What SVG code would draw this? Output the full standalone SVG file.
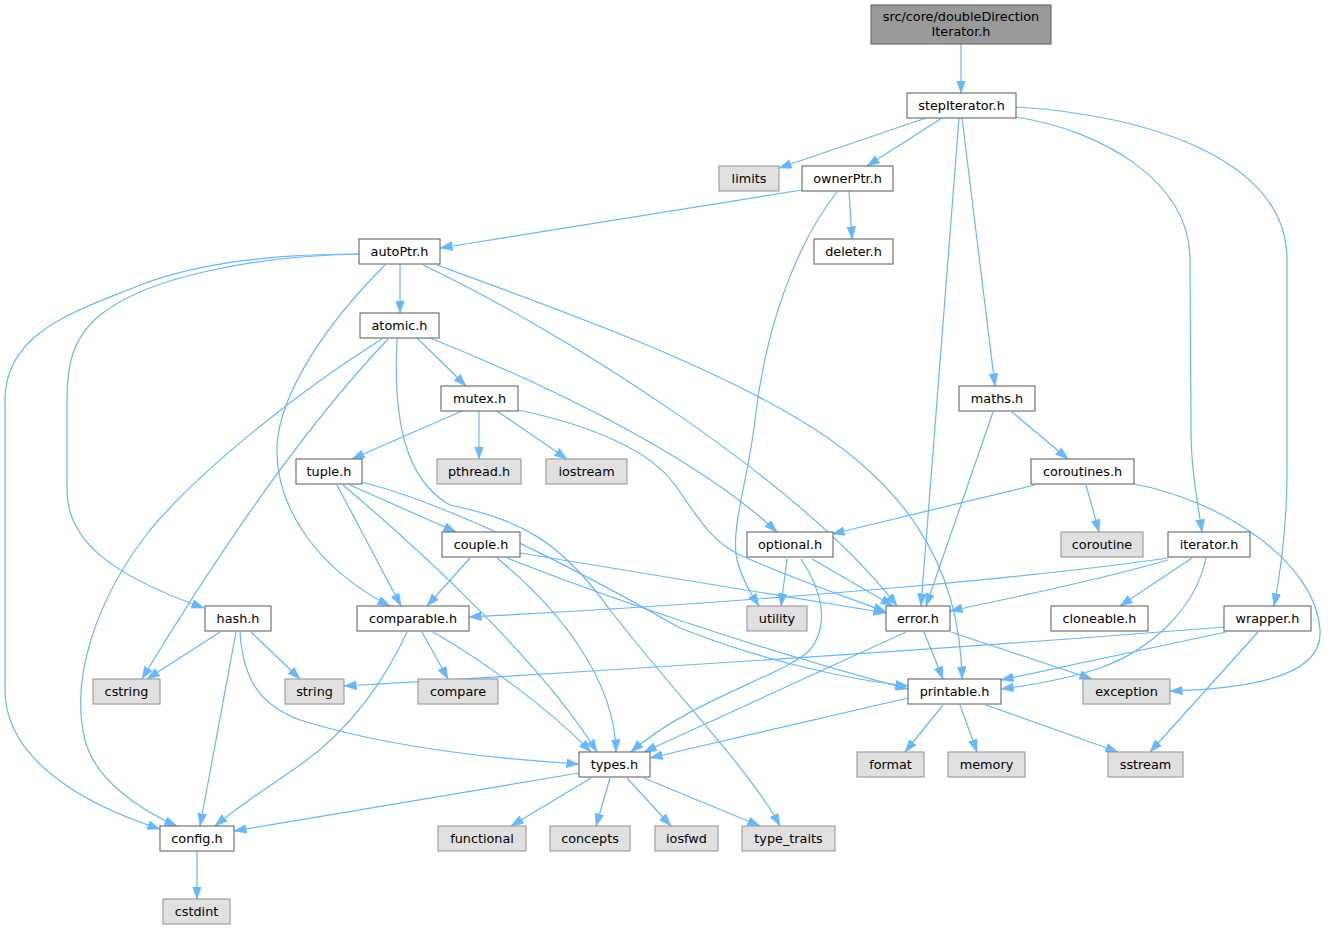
<svg xmlns="http://www.w3.org/2000/svg" width="1333" height="931" viewBox="0 0 1333 931">
<style>
.n rect{fill:#ffffff;stroke:#666666;stroke-width:1.1}
.g rect{fill:#e0e0e0;stroke:#999999;stroke-width:1.1}
.r rect{fill:#999999;stroke:#666666;stroke-width:1.1}
text{font-family:"DejaVu Sans","Liberation Sans",sans-serif;font-size:12.8px;text-anchor:middle;fill:#000000}
#edges path{fill:none;stroke:#63b8ff;stroke-width:1.2;marker-end:url(#arr)}
</style>
<defs>
<marker id="arr" markerUnits="userSpaceOnUse" markerWidth="14" markerHeight="10" refX="12.5" refY="4.5" orient="auto">
<path d="M0,0 L12.5,4.5 L0,9 Z" fill="#63b8ff" stroke="#63b8ff" stroke-width="0.5"/>
</marker>
</defs>
<rect width="1333" height="931" fill="#ffffff"/>
<g id="edges">
<path d="M961,44 L961,93"/>
<path d="M926,118 L779,168"/>
<path d="M942,118 L867,166"/>
<path d="M959,118 L921,606"/>
<path d="M962,118 L995,386"/>
<path d="M1016,117 C1100,130 1190,180 1190,260 L1191,430 C1191,470 1198,505 1202,532"/>
<path d="M1016,107 C1150,115 1287,160 1287,260 L1287,470 C1287,530 1280,575 1274,606"/>
<path d="M802,190 L440,248"/>
<path d="M849,191 L852,239"/>
<path d="M837,192 C795,245 765,330 755,420 C748,480 730,530 737,560 C742,580 752,595 759,606"/>
<path d="M400,264 L400,313"/>
<path d="M359,254 C280,254 200,262 140,285 C80,310 5,330 5,400 L5,690 C5,760 85,805 160,829"/>
<path d="M359,254 C260,256 150,275 100,315 C70,340 67,370 67,400 L67,490 C67,540 110,575 204,608"/>
<path d="M385,265 C330,320 280,390 277,446 C275,510 320,570 390,606"/>
<path d="M423,265 C560,330 800,480 897,606"/>
<path d="M437,265 C560,310 700,360 800,420 C900,480 960,560 962,679"/>
<path d="M417,338 L466,386"/>
<path d="M430,338 C560,390 700,460 777,532"/>
<path d="M388,339 C330,400 250,500 142,679"/>
<path d="M382,339 C300,390 200,470 150,530 C95,600 70,680 85,740 C95,780 140,810 177,826"/>
<path d="M397,339 C393,420 405,480 450,505 C520,520 560,540 610,610 C680,700 750,770 780,826"/>
<path d="M462,411 L352,459"/>
<path d="M479,411 L479,459"/>
<path d="M497,411 L567,459"/>
<path d="M518,410 C590,425 650,450 675,485 C700,520 710,540 740,555 C790,578 850,598 886,612"/>
<path d="M1012,412 L1068,459"/>
<path d="M993,412 L926,606"/>
<path d="M1035,485 L832,534"/>
<path d="M1086,485 L1099,532"/>
<path d="M1134,484 C1220,500 1315,560 1320,630 C1323,670 1270,688 1170,691"/>
<path d="M337,485 L401,606"/>
<path d="M343,485 C420,550 540,660 597,752"/>
<path d="M350,485 L456,532"/>
<path d="M362,482 C450,505 560,560 680,628 C760,660 850,680 908,686"/>
<path d="M470,558 L427,606"/>
<path d="M497,558 C560,610 615,680 616,752"/>
<path d="M520,553 L886,613"/>
<path d="M507,558 C600,595 760,650 908,689"/>
<path d="M787,559 L781,606"/>
<path d="M812,559 L893,606"/>
<path d="M801,559 C822,590 830,625 810,650 C785,675 690,700 631,752"/>
<path d="M220,632 L147,679"/>
<path d="M236,632 L200,826"/>
<path d="M251,632 L300,679"/>
<path d="M240,632 C243,680 260,705 300,720 C380,745 480,758 579,764"/>
<path d="M407,632 C385,680 350,730 300,765 C270,786 240,805 215,826"/>
<path d="M422,632 L448,679"/>
<path d="M433,632 C490,665 550,710 591,752"/>
<path d="M1168,558 C1050,575 800,600 469,617"/>
<path d="M1168,560 C1080,585 1000,600 950,611"/>
<path d="M1192,558 L1120,606"/>
<path d="M1206,558 C1195,610 1150,650 1100,668 C1070,678 1040,684 1001,689"/>
<path d="M1224,627 C1000,645 700,665 344,686"/>
<path d="M1226,632 L1001,680"/>
<path d="M1258,632 L1150,752"/>
<path d="M924,632 L943,679"/>
<path d="M906,632 L644,752"/>
<path d="M951,632 L1092,679"/>
<path d="M908,698 L650,758"/>
<path d="M943,705 L905,752"/>
<path d="M960,705 L977,752"/>
<path d="M986,705 L1118,752"/>
<path d="M579,773 L234,831"/>
<path d="M591,778 L511,826"/>
<path d="M610,778 L596,826"/>
<path d="M627,778 L671,826"/>
<path d="M644,778 L760,826"/>
<path d="M197,851 L197,899"/>
</g>
<g id="node_root" class="r"><rect x="871" y="5" width="180" height="39"/><text x="961" y="21">src/core/doubleDirection</text><text x="961" y="36">Iterator.h</text></g>
<g id="node_stepIterator" class="n"><rect x="907" y="93" width="109" height="25"/><text x="961.5" y="110">stepIterator.h</text></g>
<g id="node_limits" class="g"><rect x="719" y="166" width="60" height="25"/><text x="749" y="183">limits</text></g>
<g id="node_ownerPtr" class="n"><rect x="802" y="166" width="91" height="25"/><text x="847.5" y="183">ownerPtr.h</text></g>
<g id="node_deleter" class="n"><rect x="814" y="239" width="79" height="25"/><text x="853.5" y="256">deleter.h</text></g>
<g id="node_autoPtr" class="n"><rect x="359" y="239" width="81" height="25"/><text x="399.5" y="256">autoPtr.h</text></g>
<g id="node_atomic" class="n"><rect x="360" y="313" width="79" height="25"/><text x="399.5" y="330">atomic.h</text></g>
<g id="node_mutex" class="n"><rect x="441" y="386" width="77" height="25"/><text x="479.5" y="403">mutex.h</text></g>
<g id="node_maths" class="n"><rect x="959" y="386" width="76" height="25"/><text x="997" y="403">maths.h</text></g>
<g id="node_tuple" class="n"><rect x="296" y="459" width="66" height="25"/><text x="329" y="476">tuple.h</text></g>
<g id="node_pthread" class="g"><rect x="437" y="459" width="84" height="25"/><text x="479" y="476">pthread.h</text></g>
<g id="node_iostream" class="g"><rect x="546" y="459" width="81" height="25"/><text x="586.5" y="476">iostream</text></g>
<g id="node_coroutines" class="n"><rect x="1031" y="459" width="103" height="25"/><text x="1082.5" y="476">coroutines.h</text></g>
<g id="node_couple" class="n"><rect x="442" y="532" width="78" height="25"/><text x="481" y="549">couple.h</text></g>
<g id="node_optional" class="n"><rect x="747" y="532" width="86" height="25"/><text x="790" y="549">optional.h</text></g>
<g id="node_coroutine" class="g"><rect x="1061" y="532" width="82" height="25"/><text x="1102" y="549">coroutine</text></g>
<g id="node_iterator" class="n"><rect x="1168" y="532" width="82" height="25"/><text x="1209" y="549">iterator.h</text></g>
<g id="node_hash" class="n"><rect x="205" y="606" width="66" height="25"/><text x="238" y="623">hash.h</text></g>
<g id="node_comparable" class="n"><rect x="357" y="606" width="112" height="25"/><text x="413" y="623">comparable.h</text></g>
<g id="node_utility" class="g"><rect x="747" y="606" width="60" height="25"/><text x="777" y="623">utility</text></g>
<g id="node_error" class="n"><rect x="886" y="606" width="64" height="25"/><text x="918" y="623">error.h</text></g>
<g id="node_cloneable" class="n"><rect x="1051" y="606" width="97" height="25"/><text x="1099.5" y="623">cloneable.h</text></g>
<g id="node_wrapper" class="n"><rect x="1224" y="606" width="87" height="25"/><text x="1267.5" y="623">wrapper.h</text></g>
<g id="node_cstring" class="g"><rect x="93" y="679" width="67" height="25"/><text x="126.5" y="696">cstring</text></g>
<g id="node_string" class="g"><rect x="285" y="679" width="59" height="25"/><text x="314.5" y="696">string</text></g>
<g id="node_compare" class="g"><rect x="418" y="679" width="80" height="25"/><text x="458" y="696">compare</text></g>
<g id="node_printable" class="n"><rect x="908" y="679" width="93" height="25"/><text x="954.5" y="696">printable.h</text></g>
<g id="node_exception" class="g"><rect x="1083" y="679" width="87" height="25"/><text x="1126.5" y="696">exception</text></g>
<g id="node_types" class="n"><rect x="579" y="752" width="71" height="25"/><text x="614.5" y="769">types.h</text></g>
<g id="node_format" class="g"><rect x="857" y="752" width="67" height="25"/><text x="890.5" y="769">format</text></g>
<g id="node_memory" class="g"><rect x="948" y="752" width="77" height="25"/><text x="986.5" y="769">memory</text></g>
<g id="node_sstream" class="g"><rect x="1108" y="752" width="75" height="25"/><text x="1145.5" y="769">sstream</text></g>
<g id="node_config" class="n"><rect x="160" y="826" width="74" height="25"/><text x="197" y="843">config.h</text></g>
<g id="node_functional" class="g"><rect x="438" y="826" width="88" height="25"/><text x="482" y="843">functional</text></g>
<g id="node_concepts" class="g"><rect x="550" y="826" width="80" height="25"/><text x="590" y="843">concepts</text></g>
<g id="node_iosfwd" class="g"><rect x="655" y="826" width="63" height="25"/><text x="686.5" y="843">iosfwd</text></g>
<g id="node_type_traits" class="g"><rect x="742" y="826" width="93" height="25"/><text x="788.5" y="843">type_traits</text></g>
<g id="node_cstdint" class="g"><rect x="163" y="899" width="67" height="25"/><text x="196.5" y="916">cstdint</text></g>
</svg>
